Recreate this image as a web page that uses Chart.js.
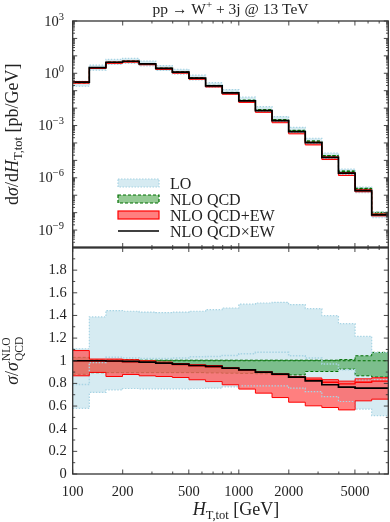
<!DOCTYPE html>
<html><head><meta charset="utf-8">
<script src="https://cdn.jsdelivr.net/npm/chart.js@4/dist/chart.umd.min.js"></script>
<style>html,body{margin:0;padding:0;background:#fff}#wrap{width:390px;height:522px}</style>
</head><body><div id="wrap"><canvas id="c" width="390" height="522"></canvas></div>
<script>
// ---- data ----
const binEdges = [100, 125.9, 158.5, 199.5, 251.2, 316.2, 398.1, 501.2, 631, 794.3, 1000, 1259, 1585, 1995, 2512, 3162, 3981, 5012, 6310, 7943];
const xTickValues = [100, 200, 500, 1000, 2000, 5000];
const logTickValues = [1e3, 1e0, 1e-3, 1e-6, 1e-9];
const logTickExponents = ['3', '0', '\u22123', '\u22126', '\u22129'];

// upper panel: d sigma / dHT [pb/GeV]
const xsLOHi   = [0.343, 2.91, 6.22, 7.08, 5.06, 2.76, 1.70, 0.78, 0.29, 0.116, 0.0425, 0.0121, 0.00326, 7.87e-4, 1.87e-4, 2.66e-5, 3.2e-6, 2.96e-7, 1.06e-8];
const xsLOLo   = [0.18, 1.51, 3.2, 3.72, 2.66, 1.46, 0.895, 0.41, 0.152, 0.0609, 0.022, 0.00623, 0.00167, 3.99e-4, 9.3e-5, 1.3e-5, 1.54e-6, 1.4e-7, 5.1e-9];
const xsNLO    = [0.31, 2.1, 4.31, 4.93, 3.54, 1.94, 1.19, 0.543, 0.2, 0.0791, 0.0283, 0.008, 0.00215, 5.26e-4, 1.28e-4, 1.9e-5, 2.41e-6, 2.44e-7, 9.9e-9];
const xsNLOHi  = [0.319, 2.12, 4.35, 4.98, 3.56, 1.95, 1.2, 0.546, 0.201, 0.0795, 0.0284, 0.00804, 0.00216, 5.29e-4, 1.29e-4, 1.91e-5, 2.43e-6, 2.55e-7, 1.06e-8];
const xsNLOLo  = [0.273, 1.88, 3.86, 4.41, 3.17, 1.74, 1.07, 0.486, 0.179, 0.0704, 0.0251, 0.00708, 0.0019, 4.6e-4, 1.16e-4, 1.72e-5, 2.23e-6, 2.12e-7, 8.5e-9];
const xsEWHi   = [0.338, 2.13, 4.37, 4.97, 3.54, 1.92, 1.16, 0.524, 0.192, 0.0741, 0.0261, 0.00722, 0.0019, 4.53e-4, 1.09e-4, 1.58e-5, 1.98e-6, 2.05e-7, 8.4e-9];
const xsEWLo   = [0.269, 1.88, 3.71, 4.33, 3.07, 1.67, 1.01, 0.452, 0.163, 0.0623, 0.0212, 0.00571, 0.00145, 3.33e-4, 7.7e-5, 1.12e-5, 1.36e-6, 1.58e-7, 6.5e-9];
const xsQCDxEW = [0.31, 2.1, 4.3, 4.9, 3.5, 1.9, 1.15, 0.52, 0.19, 0.074, 0.026, 0.0072, 0.0019, 4.5e-4, 1.05e-4, 1.5e-5, 1.85e-6, 1.85e-7, 7.5e-9];

// lower panel: ratio to NLO QCD
const ratioLOHi   = [1.106, 1.387, 1.443, 1.437, 1.43, 1.425, 1.43, 1.437, 1.451, 1.466, 1.50, 1.51, 1.516, 1.496, 1.46, 1.398, 1.327, 1.215, 1.073];
const ratioLOLo   = [0.58, 0.72, 0.743, 0.755, 0.752, 0.752, 0.752, 0.755, 0.758, 0.77, 0.779, 0.779, 0.779, 0.758, 0.728, 0.684, 0.64, 0.573, 0.516];
const ratioLO     = [0.79, 0.985, 1.03, 1.025, 1.02, 1.02, 1.025, 1.035, 1.038, 1.047, 1.062, 1.074, 1.074, 1.044, 1.024, 0.971, 0.92, 0.832, 0.832];
const ratioNLOHi  = [1.03, 1.01, 1.01, 1.01, 1.005, 1.005, 1.005, 1.005, 1.005, 1.005, 1.005, 1.005, 1.005, 1.005, 1.005, 1.005, 1.01, 1.044, 1.074];
const ratioNLOLo  = [0.88, 0.895, 0.895, 0.895, 0.895, 0.895, 0.895, 0.895, 0.893, 0.89, 0.888, 0.885, 0.882, 0.875, 0.905, 0.905, 0.926, 0.867, 0.856];
const ratioNLO    = [1, 1, 1, 1, 1, 1, 1, 1, 1, 1, 1, 1, 1, 1, 1, 1, 1, 1, 1];
const ratioEWHi   = [1.09, 1.015, 1.015, 1.009, 1.0, 0.988, 0.975, 0.965, 0.958, 0.937, 0.922, 0.902, 0.884, 0.862, 0.848, 0.833, 0.82, 0.84, 0.85];
const ratioEWLo   = [0.867, 0.897, 0.861, 0.879, 0.867, 0.861, 0.852, 0.832, 0.816, 0.788, 0.75, 0.714, 0.675, 0.634, 0.602, 0.587, 0.566, 0.646, 0.661];
const ratioEW     = [1.0, 0.998, 0.995, 0.99, 0.985, 0.976, 0.967, 0.955, 0.947, 0.932, 0.917, 0.897, 0.878, 0.853, 0.83, 0.81, 0.795, 0.81, 0.82];
const ratioQCDxEW = [1.0, 1.0, 0.998, 0.994, 0.988, 0.979, 0.97, 0.958, 0.95, 0.935, 0.92, 0.9, 0.882, 0.855, 0.823, 0.788, 0.767, 0.758, 0.758];

// ---- styles ----
const SERIF = "'Liberation Serif','DejaVu Serif',serif";
const TXT = '#222';
const LO_FILL = 'rgba(173,216,230,0.5)', LO_LINE = 'rgb(168,212,228)';
const NLO_FILL = 'rgba(0,128,0,0.42)', NLO_LINE = 'rgb(0,110,0)';
const EW_FILL = 'rgba(255,95,95,0.8)', EW_LINE = 'rgb(255,0,0)';

function steps(vals) {
  return binEdges.map((e, i) => ({ x: e, y: vals[Math.min(i, vals.length - 1)] }));
}
function ds(vals, axis, o) {
  return Object.assign({
    data: steps(vals), yAxisID: axis, stepped: 'before', pointRadius: 0,
    borderWidth: 1, fill: false, tension: 0
  }, o);
}
function band(hi, lo, axis, fillC, order) {
  return [
    ds(hi, axis, { fill: '+1', backgroundColor: fillC, borderWidth: 0, borderColor: 'rgba(0,0,0,0)', order }),
    ds(lo, axis, { borderWidth: 0, borderColor: 'rgba(0,0,0,0)', order })
  ];
}
function edges(hi, lo, axis, lineC, dash, width, order) {
  return [
    ds(hi, axis, { borderColor: lineC, borderDash: dash, borderWidth: width, order }),
    ds(lo, axis, { borderColor: lineC, borderDash: dash, borderWidth: width, order })
  ];
}

function panel(axis, lo, hi, loC, nloLo, nloHi, nloC, ewLo, ewHi, ewC, qxe) {
  const out = [
    ...band(hi, lo, axis, LO_FILL, 30),
    ...band(nloHi, nloLo, axis, NLO_FILL, 28),
    ...edges(nloHi, nloLo, axis, NLO_LINE, [3, 2], 1, 27),
    ds(nloC, axis, { borderColor: NLO_LINE, borderDash: [3, 2], borderWidth: 1, order: 26 }),
    ...band(ewHi, ewLo, axis, EW_FILL, 20),
    ...edges(hi, lo, axis, LO_LINE, [1.5, 1.5], 1.2, 18),
    ...edges(ewHi, ewLo, axis, EW_LINE, [], 1, 16),
    ds(qxe, axis, { borderColor: '#000', borderWidth: 1.7, order: 1 })
  ];
  if (loC) out.push(ds(loC, axis, { borderColor: LO_LINE, borderDash: [1.5, 1.5], borderWidth: 1.5, order: 17 }));
  if (ewC) out.push(ds(ewC, axis, { borderColor: EW_LINE, borderWidth: 1.3, order: 9 }));
  return out;
}

const datasets = [
  ...panel('yr', ratioLOLo, ratioLOHi, ratioLO, ratioNLOLo, ratioNLOHi, ratioNLO, ratioEWLo, ratioEWHi, ratioEW, ratioQCDxEW),
  ...panel('y', xsLOLo, xsLOHi, null, xsNLOLo, xsNLOHi, xsNLO, xsEWLo, xsEWHi, null, xsQCDxEW)
];

function fnt(size, it) { return (it ? 'italic ' : '') + size + 'px ' + SERIF; }
function drawParts(ctx, parts, x, y, align) {
  const widths = parts.map(p => {
    if (p.sup !== undefined) {
      ctx.font = fnt(p.size, false);
      return Math.max(ctx.measureText(p.sup).width, ctx.measureText(p.sub).width);
    }
    ctx.font = fnt(p.size, p.it);
    return ctx.measureText(p.t).width + (p.gap || 0);
  });
  const total = widths.reduce((a, b) => a + b, 0);
  let cx = align === 'center' ? x - total / 2 : align === 'right' ? x - total : x;
  ctx.textAlign = 'left'; ctx.textBaseline = 'alphabetic'; ctx.fillStyle = TXT;
  parts.forEach((p, i) => {
    if (p.sup !== undefined) {
      ctx.font = fnt(p.size, false);
      ctx.fillText(p.sup, cx, y - p.up);
      ctx.fillText(p.sub, cx, y + p.down);
    } else {
      ctx.font = fnt(p.size, p.it);
      ctx.fillText(p.t, cx, y + (p.dy || 0));
    }
    cx += widths[i];
  });
}

const decor = {
  id: 'decor',
  afterDatasetsDraw(chart) {
    const ctx = chart.ctx;
    const xs = chart.scales.x, yl = chart.scales.y, yr = chart.scales.yr;
    const L = xs.left, R = xs.right;
    ctx.save();
    ctx.strokeStyle = '#333';
    // ticks
    const xMinor = [];
    for (let d = 100; d <= 1000; d *= 10) for (let k = 2; k <= 9; k++) { const v = k * d; if (v < 7943 && !xTickValues.includes(v)) xMinor.push(v); }
    ctx.lineWidth = 0.9;
    ctx.beginPath();
    [yl, yr].forEach(p => {
      xTickValues.forEach(v => { const px = xs.getPixelForValue(v); ctx.moveTo(px, p.bottom); ctx.lineTo(px, p.bottom - 4.5); ctx.moveTo(px, p.top); ctx.lineTo(px, p.top + 4.5); });
      xMinor.forEach(v => { const px = xs.getPixelForValue(v); ctx.moveTo(px, p.bottom); ctx.lineTo(px, p.bottom - 2.5); ctx.moveTo(px, p.top); ctx.lineTo(px, p.top + 2.5); });
    });
    for (let e = -10; e <= 3; e++) {
      for (let k = 1; k <= 9; k++) {
        const v = k * Math.pow(10, e);
        if (v < 1e-10 * 0.999 || v > 1e3 * 1.001) continue;
        const py = yl.getPixelForValue(v); const len = k === 1 ? 4.5 : 2.3;
        ctx.moveTo(L, py); ctx.lineTo(L + len, py); ctx.moveTo(R, py); ctx.lineTo(R - len, py);
      }
    }
    for (let i = 0; i <= 20; i++) {
      const v = i / 10; const py = yr.getPixelForValue(v); const len = i % 2 === 0 ? 4.5 : 2.5;
      ctx.moveTo(L, py); ctx.lineTo(L + len, py); ctx.moveTo(R, py); ctx.lineTo(R - len, py);
    }
    ctx.stroke();
    // frames
    ctx.lineWidth = 1.3;
    ctx.strokeRect(L, yl.top, R - L, yl.bottom - yl.top);
    ctx.strokeRect(L, yr.top, R - L, yr.bottom - yr.top);
    ctx.lineWidth = 2;
    ctx.beginPath(); ctx.moveTo(L, yl.bottom); ctx.lineTo(R, yl.bottom); ctx.stroke();

    // log tick labels
    logTickValues.forEach((v, i) => {
      const py = yl.getPixelForValue(v);
      drawParts(ctx, [{ t: '10', size: 14.5 }, { t: logTickExponents[i], size: 10.5, dy: -6 }], 64, py + 4.5, 'right');
    });

    // legend
    const lx = 118, lw = 41, tx = 170;
    const rows = [183, 199, 215, 231];
    const fills = [LO_FILL, NLO_FILL, EW_FILL];
    const lines = [LO_LINE, NLO_LINE, EW_LINE];
    const dashes = [[1.5, 1.5], [3, 2], []];
    for (let i = 0; i < 3; i++) {
      ctx.fillStyle = fills[i];
      ctx.fillRect(lx, rows[i] - 4, lw, 8);
      ctx.strokeStyle = lines[i]; ctx.lineWidth = 1.2; ctx.setLineDash(dashes[i]);
      ctx.strokeRect(lx, rows[i] - 4, lw, 8);
    }
    ctx.setLineDash([]);
    ctx.strokeStyle = '#000'; ctx.lineWidth = 1.7;
    ctx.beginPath(); ctx.moveTo(lx, rows[3]); ctx.lineTo(lx + lw, rows[3]); ctx.stroke();
    const labels = ['LO', 'NLO QCD', 'NLO QCD+EW', 'NLO QCD\u00D7EW'];
    labels.forEach((t, i) => drawParts(ctx, [{ t, size: 16 }], tx, rows[i] + 5.5, 'left'));

    // title
    const S = 15.5;
    drawParts(ctx, [{ t: 'pp \u2192 W', size: S }, { t: '+', size: 11, dy: -6 }, { t: ' + 3j @ 13 TeV', size: S }], (L + R) / 2, 13.5, 'center');
    // x title
    const A = 18;
    drawParts(ctx, [{ t: 'H', size: A, it: true }, { t: 'T,tot', size: 12.5, dy: 3.5 }, { t: ' [GeV]', size: A }], 236, 515, 'center');
    // y titles
    ctx.save(); ctx.translate(12, (yl.top + yl.bottom) / 2); ctx.rotate(-Math.PI / 2);
    drawParts(ctx, [{ t: 'd', size: A }, { t: '\u03C3', size: A, it: true }, { t: '/d', size: A }, { t: 'H', size: A, it: true }, { t: 'T,tot', size: 12.5, dy: 3.5 }, { t: ' [pb/GeV]', size: A }], 0, 6, 'center');
    ctx.restore();
    ctx.save(); ctx.translate(12, (yr.top + yr.bottom) / 2); ctx.rotate(-Math.PI / 2);
    drawParts(ctx, [{ t: '\u03C3', size: A, it: true }, { t: '/', size: A }, { t: '\u03C3', size: A, it: true, gap: 1 }, { sup: 'NLO', sub: 'QCD', size: 11.5, up: 8, down: 4.5 }], 0, 6, 'center');
    ctx.restore();
    ctx.restore();
  }
};

new Chart(document.getElementById('c'), {
  type: 'line',
  data: { datasets },
  plugins: [decor],
  options: {
    responsive: false, animation: false, devicePixelRatio: 1,
    layout: { padding: { top: 21, right: 1.7, left: 0, bottom: 0 } },
    plugins: { legend: { display: false }, tooltip: { enabled: false }, title: { display: false } },
    scales: {
      x: {
        type: 'logarithmic', min: 100, max: 7943.28, position: 'bottom',
        grid: { display: false, drawTicks: false }, border: { display: false },
        afterBuildTicks: s => { s.ticks = xTickValues.map(v => ({ value: v })); },
        afterFit: s => { s.height = 48; },
        ticks: { autoSkip: false, maxRotation: 0, padding: 9, color: TXT, font: { family: SERIF, size: 14.5 }, callback: v => String(v) }
      },
      yr: {
        type: 'linear', position: 'left', stack: 'panels', stackWeight: 1, min: 0, max: 2,
        grid: { display: false, drawTicks: false }, border: { display: false },
        afterFit: s => { s.width = 72.7; },
        ticks: { stepSize: 0.2, autoSkip: false, padding: 6, color: TXT, font: { family: SERIF, size: 14.5 }, callback: v => v > 1.95 ? '' : String(+v.toFixed(1)) }
      },
      y: {
        type: 'logarithmic', position: 'left', stack: 'panels', stackWeight: 1, min: 1e-10, max: 1e3,
        grid: { display: false, drawTicks: false }, border: { display: false },
        afterFit: s => { s.width = 72.7; },
        ticks: { display: false }
      }
    }
  }
});
</script>
</body></html>
